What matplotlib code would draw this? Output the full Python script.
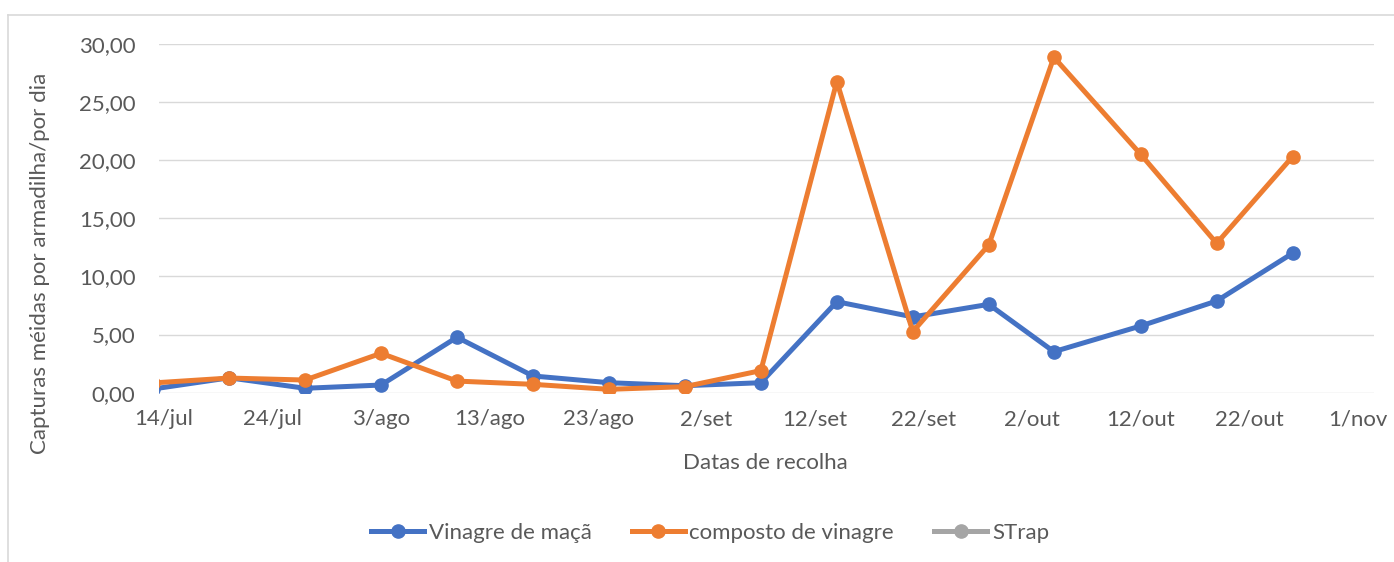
import matplotlib
matplotlib.use("Agg")
import matplotlib.pyplot as plt
import matplotlib.dates as mdates
from matplotlib.lines import Line2D
from matplotlib.ticker import FuncFormatter, MultipleLocator
import pandas as pd

# Data
dates = ['2021-07-13', '2021-07-20', '2021-07-27', '2021-08-03', '2021-08-10',
         '2021-08-17', '2021-08-24', '2021-08-31', '2021-09-07', '2021-09-14',
         '2021-09-21', '2021-09-28', '2021-10-04', '2021-10-12', '2021-10-19',
         '2021-10-26']
vinagre_maca = [0.32, 1.28, 0.38, 0.66, 4.77, 1.44, 0.86, 0.60, 0.86, 7.83,
                6.52, 7.60, 3.53, 5.74, 7.89, 12.00]
composto_vinagre = [0.84, 1.26, 1.09, 3.39, 1.00, 0.72, 0.29, 0.52, 1.90, 26.77,
                    5.25, 12.71, 28.86, 20.51, 12.85, 20.31]
strap = []  # series present in the legend, no values

meses = ['jan', 'fev', 'mar', 'abr', 'mai', 'jun', 'jul', 'ago', 'set', 'out', 'nov', 'dez']

x = pd.to_datetime(dates)
tick_dates = pd.date_range('2021-07-14', '2021-11-01', freq='10D')

plt.rcParams['font.family'] = ['Lato', 'DejaVu Sans']
txt = '#595959'
fs = 16

fig = plt.figure(figsize=(13.94, 5.62), dpi=100)
ax = fig.add_axes([159 / 1394, 1 - 392.7 / 562, (1374 - 159) / 1394, (392.7 - 44) / 562])

blue, orange, grey = '#4472C4', '#ED7D31', '#A5A5A5'
ax.plot(x, vinagre_maca, color=blue, lw=3.6, marker='o', ms=9.5, label='Vinagre de maçã',
        solid_joinstyle='round', zorder=3)
ax.plot(x, composto_vinagre, color=orange, lw=3.6, marker='o', ms=9.5, label='composto de vinagre',
        solid_joinstyle='round', zorder=4)

ax.set_ylim(0, 30)
ax.set_xlim(mdates.date2num(pd.Timestamp('2021-07-14')) - 0.46,
            mdates.date2num(pd.Timestamp('2021-11-01')) + 1.5)
ax.yaxis.set_major_locator(MultipleLocator(5))
ax.yaxis.set_major_formatter(FuncFormatter(lambda v, p: f"{v:.2f}".replace('.', ',')))
ax.set_xticks(tick_dates)
ax.set_xticklabels([f"{d.day}/{meses[d.month - 1]}" for d in tick_dates])

ax.grid(axis='y', color='#D9D9D9', lw=1.0)
ax.set_axisbelow(True)
for s in ax.spines.values():
    s.set_visible(False)
ax.tick_params(length=0, labelsize=fs, colors=txt)
ax.tick_params(axis='y', pad=17)
ax.tick_params(axis='x', pad=12)

fig.text(40 / 1394, 1 - 263 / 562, 'Capturas méidas por armadilha/por dia', rotation=90,
         ha='center', va='center', fontsize=fs, color=txt)
fig.text(765 / 1394, 1 - 463 / 562, 'Datas de recolha', ha='center', va='center',
         fontsize=fs, color=txt)

handles = [Line2D([], [], color=blue, lw=3.6, marker='o', ms=9.5),
           Line2D([], [], color=orange, lw=3.6, marker='o', ms=9.5),
           Line2D([], [], color=grey, lw=3.6, marker='o', ms=9.5)]
leg = fig.legend(handles, ['Vinagre de maçã', 'composto de vinagre', 'STrap'],
                 loc='center', bbox_to_anchor=(710 / 1394, 1 - 533 / 562), ncol=3,
                 frameon=False, fontsize=fs, handlelength=2.4, handletextpad=0.2,
                 columnspacing=1.8, labelcolor=txt)

# chart area border (only top and left visible in the crop)
fig.add_artist(Line2D([8 / 1394, 8 / 1394], [0, 1 - 15 / 562], color='#D9D9D9', lw=1.2))
fig.add_artist(Line2D([8 / 1394, 1], [1 - 15 / 562, 1 - 15 / 562], color='#D9D9D9', lw=1.2))

fig.savefig('out.png', dpi=100, facecolor='white')
